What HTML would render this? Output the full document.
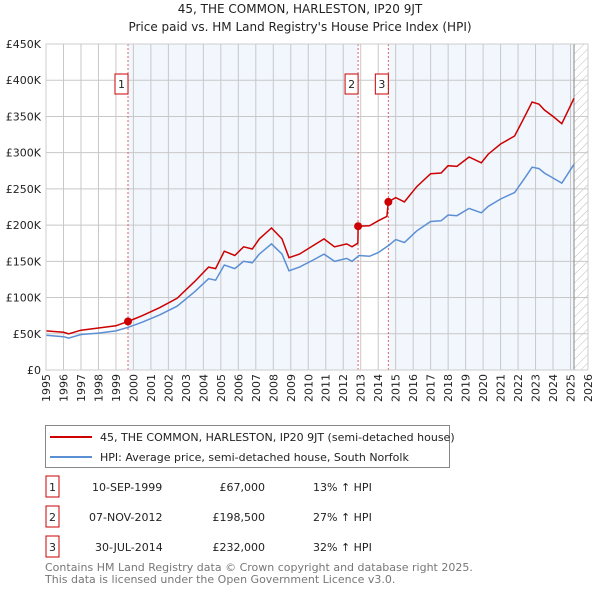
<!DOCTYPE html>
<html><head><meta charset="utf-8"><style>
body{margin:0;background:#fff;font-family:"Liberation Sans","DejaVu Sans",sans-serif;}
</style></head><body>
<svg width="600" height="590" xmlns="http://www.w3.org/2000/svg" font-family="DejaVu Sans, Liberation Sans, sans-serif">
<defs><pattern id="hatch" width="6" height="6" patternUnits="userSpaceOnUse" patternTransform="rotate(45)"><line x1="0" y1="0" x2="0" y2="6" stroke="#bbb" stroke-width="1"/></pattern></defs>
<text x="300" y="13" text-anchor="middle" font-size="12" fill="#222">45, THE COMMON, HARLESTON, IP20 9JT</text>
<text x="300" y="31" text-anchor="middle" font-size="12" fill="#222">Price paid vs. HM Land Registry's House Price Index (HPI)</text>
<g id="plot"></g>
<g>
<rect x="45.5" y="425.5" width="404" height="42" fill="#fff" stroke="#888"/>
<line x1="50" y1="437" x2="92" y2="437" stroke="#cc0000" stroke-width="2"/>
<text x="100" y="441" font-size="11" fill="#222">45, THE COMMON, HARLESTON, IP20 9JT (semi-detached house)</text>
<line x1="50" y1="457" x2="92" y2="457" stroke="#5b8fd4" stroke-width="2"/>
<text x="100" y="461" font-size="11" fill="#222">HPI: Average price, semi-detached house, South Norfolk</text>
</g>
<g font-size="11" fill="#222">
<rect x="46" y="476" width="13" height="21" fill="#fff" stroke="#cc0000"/><text x="52.5" y="491" text-anchor="middle">1</text>
<text x="92" y="491">10-SEP-1999</text><text x="265" y="491" text-anchor="end">£67,000</text><text x="313" y="491">13% ↑ HPI</text>
<rect x="46" y="506" width="13" height="21" fill="#fff" stroke="#cc0000"/><text x="52.5" y="521" text-anchor="middle">2</text>
<text x="89" y="521">07-NOV-2012</text><text x="265" y="521" text-anchor="end">£198,500</text><text x="313" y="521">27% ↑ HPI</text>
<rect x="46" y="536" width="13" height="21" fill="#fff" stroke="#cc0000"/><text x="52.5" y="551" text-anchor="middle">3</text>
<text x="95" y="551">30-JUL-2014</text><text x="265" y="551" text-anchor="end">£232,000</text><text x="313" y="551">32% ↑ HPI</text>
</g>
<text x="45" y="571" font-size="11" fill="#777">Contains HM Land Registry data © Crown copyright and database right 2025.</text>
<text x="45" y="583" font-size="11" fill="#777">This data is licensed under the Open Government Licence v3.0.</text>
</svg>
<script>
const hpiYears=[1995,1996,1996.3,1997,1998,1999,1999.7,2000.5,2001.5,2002.5,2003.5,2004.3,2004.7,2005.2,2005.8,2006.3,2006.8,2007.2,2007.9,2008.5,2008.9,2009.5,2010.3,2010.9,2011.5,2012.2,2012.5,2012.9,2013.5,2014.0,2014.6,2015.0,2015.5,2016.2,2017.0,2017.6,2018.0,2018.5,2019.2,2019.9,2020.3,2021.0,2021.8,2022.3,2022.8,2023.2,2023.5,2024.0,2024.5,2025.2];
const hpiValues=[48,46,44,49,51,54,59,66,76,88,108,126,124,145,140,150,148,160,174,160,137,142,152,160,150,154,150,158,157,162,172,180,176,192,205,206,214,213,223,217,226,236,245,262,280,278,272,265,258,284];
const priceYears=[1995,1996,1996.3,1997,1998,1999,1999.69,2000.5,2001.5,2002.5,2003.5,2004.3,2004.7,2005.2,2005.8,2006.3,2006.8,2007.2,2007.9,2008.5,2008.9,2009.5,2010.3,2010.9,2011.5,2012.2,2012.5,2012.84,2012.85,2013.5,2014.0,2014.5,2014.58,2015.0,2015.5,2016.2,2017.0,2017.6,2018.0,2018.5,2019.2,2019.9,2020.3,2021.0,2021.8,2022.3,2022.8,2023.2,2023.5,2024.0,2024.5,2025.2];
const priceValues=[54,52,50,55,58,61,67,75,86,99,122,142,140,164,158,170,167,181,196,181,155,160,172,181,170,174,170,175,198.5,199,206,212,232,238,232,253,271,272,282,281,294,286,298,312,323,346,370,367,359,350,340,375];
const saleYears=[1999.69,2012.85,2014.58];
const saleValues=[67,198.5,232];
const saleLabels=["1","2","3"];
const yTicks=[0,50,100,150,200,250,300,350,400,450];
const yTickLabels=["£0","£50K","£100K","£150K","£200K","£250K","£300K","£350K","£400K","£450K"];
const xStart=1995,xEnd=2026,dataEnd=2025.2;
const X=y=>46+(y-xStart)*(588-46)/(xEnd-xStart);
const Y=v=>370-v*(370-44)/450;
const NS="http://www.w3.org/2000/svg";
const g=document.getElementById('plot');
function mk(t,a,p){const e=document.createElementNS(NS,t);for(const k in a)e.setAttribute(k,a[k]);(p||g).appendChild(e);return e;}
const bg=mk('rect',{x:X(xStart),y:Y(450),width:X(xEnd)-X(xStart),height:Y(0)-Y(450),fill:'#fff'});


const sh1=mk('rect',{x:X(saleYears[0]),y:Y(450),width:X(saleYears[1])-X(saleYears[0]),height:Y(0)-Y(450),fill:'#f2f6fd'});


const sh2=mk('rect',{x:X(saleYears[2]),y:Y(450),width:X(dataEnd)-X(saleYears[2]),height:Y(0)-Y(450),fill:'#f2f6fd'});


const ht=mk('rect',{x:X(dataEnd),y:Y(450),width:X(xEnd)-X(dataEnd),height:Y(0)-Y(450),fill:'url(#hatch)'});


for(let yr=xStart;yr<=xEnd;yr++){
 const l=mk('line',{x1:X(yr),x2:X(yr),y1:Y(450),y2:Y(0),stroke:'#c8c8c8','stroke-width':1});
 
 
 const t=mk('text',{x:0,y:0,'font-size':11,fill:'#222','text-anchor':'end',transform:`translate(${X(yr)+4},374) rotate(-90)`});
 t.textContent=yr;
 
 
}
yTicks.forEach((v,i)=>{
 const l=mk('line',{x1:X(xStart),x2:X(xEnd),y1:Y(v),y2:Y(v),stroke:'#c8c8c8','stroke-width':1});
 
 
 const t=mk('text',{x:41,y:Y(v)+4,'font-size':11,fill:'#222','text-anchor':'end'});
 t.textContent=yTickLabels[i];
 
 
});
const dl=mk('line',{x1:X(dataEnd),x2:X(dataEnd),y1:Y(450),y2:Y(0),stroke:'#888','stroke-width':1});


saleYears.forEach((yr,i)=>{
 const l=mk('line',{x1:X(yr),x2:X(yr),y1:Y(450),y2:Y(0),stroke:'#e06060','stroke-width':1,'stroke-dasharray':'2,2'});
 
 
});
function path(xs,vs){return xs.map((x,i)=>(i?'L':'M')+X(x).toFixed(1)+','+Y(vs[i]).toFixed(1)).join('');}
const hp=mk('path',{d:path(hpiYears,hpiValues),fill:'none',stroke:'#5b8fd4','stroke-width':1.5});


const pp=mk('path',{d:path(priceYears,priceValues),fill:'none',stroke:'#cc0000','stroke-width':1.5});


saleYears.forEach((yr,i)=>{
 const c=mk('circle',{cx:X(yr),cy:Y(saleValues[i]),r:4,fill:'#cc0000'});
 
 
 const b=mk('rect',{x:X(yr)-13,y:74,width:13,height:20,fill:'#fff',stroke:'#cc0000'});
 
 
 const t=mk('text',{x:X(yr)-6.5,y:88,'font-size':11,fill:'#222','text-anchor':'middle'});
 t.textContent=saleLabels[i];
 
 
});
const fr=mk('rect',{x:X(xStart),y:Y(450),width:X(xEnd)-X(xStart),height:Y(0)-Y(450),fill:'none',stroke:'#ccc'});


</script>
</body></html>
